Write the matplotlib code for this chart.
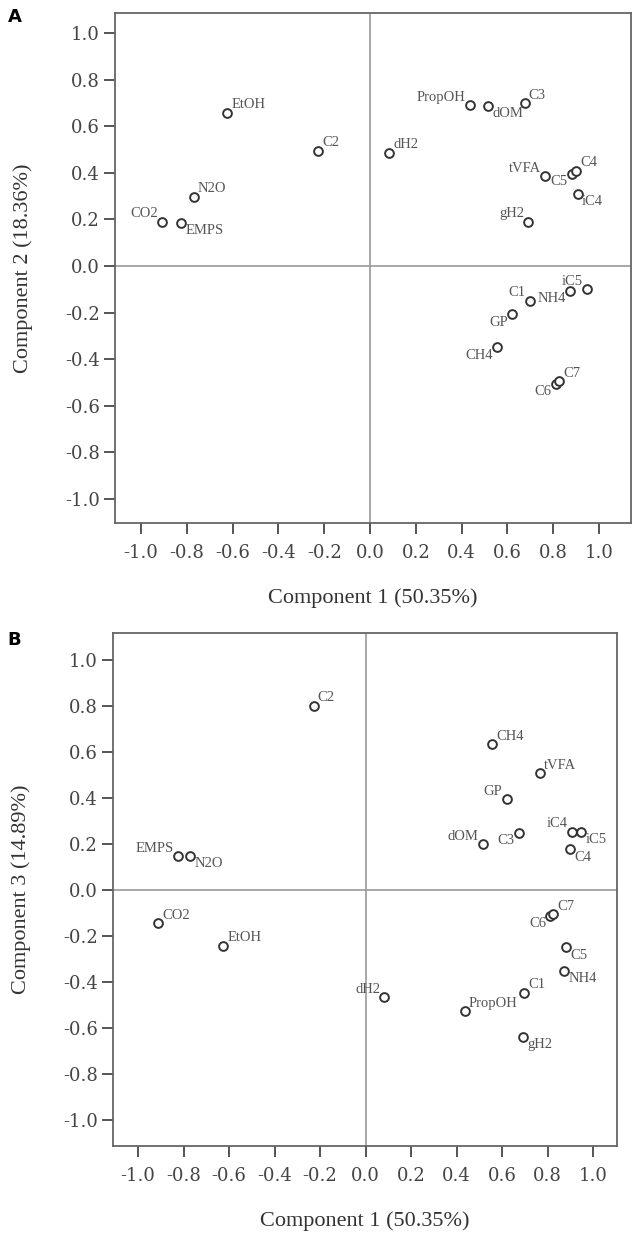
import matplotlib.pyplot as plt

# loadings
names = ["EtOH", "C2", "N2O", "CO2", "EMPS", "PropOH", "dOM", "C3", "dH2", "tVFA",
         "C5", "C4", "iC4", "gH2", "iC5", "NH4", "C1", "GP", "CH4", "C6", "C7"]
comp1 = [-0.625, -0.228, -0.770, -0.910, -0.825, 0.435, 0.515, 0.675, 0.082, 0.765,
         0.882, 0.900, 0.908, 0.692, 0.948, 0.872, 0.698, 0.620, 0.555, 0.812, 0.825]
comp2 = [0.658, 0.495, 0.297, 0.190, 0.186, 0.690, 0.688, 0.698, 0.486, 0.386,
         0.395, 0.409, 0.309, 0.190, -0.100, -0.107, -0.149, -0.207, -0.349, -0.505, -0.495]
comp3 = [-0.242, 0.801, 0.148, -0.145, 0.148, -0.526, 0.200, 0.249, -0.465, 0.507,
         -0.249, 0.177, 0.253, -0.638, 0.253, -0.351, -0.447, 0.394, 0.633, -0.112, -0.105]

ticks = [-1.0, -0.8, -0.6, -0.4, -0.2, 0.0, 0.2, 0.4, 0.6, 0.8, 1.0]

# label placement: ur = upper right, ul = upper left, lr = lower right, ll = lower left
place_a = {"EtOH": "ur", "C2": "ur", "N2O": "ur", "CO2": "ul", "EMPS": "lr", "PropOH": "ul",
           "dOM": "lr", "C3": "ur", "dH2": "ur", "tVFA": "ul", "C5": "ll", "C4": "ur",
           "iC4": "lr", "gH2": "ul", "iC5": "ul", "NH4": "ll", "C1": "ul", "GP": "ll",
           "CH4": "ll", "C6": "ll", "C7": "ur"}
place_b = {"EtOH": "ur", "C2": "ur", "N2O": "lr", "CO2": "ur", "EMPS": "ul", "PropOH": "ur",
           "dOM": "ul", "C3": "ll", "dH2": "ul", "tVFA": "ur", "C5": "lr", "C4": "lr",
           "iC4": "ul", "gH2": "lr", "iC5": "lr", "NH4": "lr", "C1": "ur", "GP": "ul",
           "CH4": "ur", "C6": "ll", "C7": "ur"}

fig = plt.figure(figsize=(6.38, 12.42), dpi=100)

def panel(rect, xs, ys, place, ylabel, xlim, ylim, letter, letter_y):
    ax = fig.add_axes(rect)
    ax.axhline(0, color="#9a9a9a", lw=1.2, zorder=1)
    ax.axvline(0, color="#9a9a9a", lw=1.2, zorder=1)
    ax.plot(xs, ys, "o", ms=6.3, mfc="white", mec="#333333", mew=1.4, zorder=3)
    for n, x, y in zip(names, xs, ys):
        p = place[n]
        dx = 3 if p[1] == "r" else -3
        dy = 1 if p[0] == "u" else -1
        ax.annotate(n, (x, y), xytext=(dx, dy), textcoords="offset points",
                    ha="left" if p[1] == "r" else "right",
                    va="bottom" if p[0] == "u" else "top",
                    fontsize=10.5, family="Liberation Serif", color="#555555")
    ax.set_xlim(*xlim)
    ax.set_ylim(*ylim)
    ax.set_xticks(ticks)
    ax.set_yticks(ticks)
    ax.set_xticklabels(["%.1f" % t for t in ticks])
    ax.set_yticklabels(["%.1f" % t for t in ticks])
    for s in ax.spines.values():
        s.set_color("#666666")
        s.set_linewidth(1.3)
    ax.tick_params(direction="out", length=8, width=1.4, color="#555555",
                   labelsize=13, labelcolor="#444444")
    ax.tick_params(axis="x", pad=7)
    ax.tick_params(axis="y", pad=3)
    for lab in ax.get_xticklabels() + ax.get_yticklabels():
        lab.set_family("DejaVu Serif")
    ax.set_xlabel("Component 1 (50.35%)", family="Liberation Serif", fontsize=16, color="#333333")
    ax.set_ylabel(ylabel, family="Liberation Serif", fontsize=16, color="#333333")
    ax.xaxis.set_label_coords(0.5, -0.128)
    ax.yaxis.set_label_coords(-82 / (rect[2] * 638), 0.5)
    fig.text(0.012, letter_y, letter, fontsize=13, fontweight="bold", family="DejaVu Sans", va="center")
    return ax

panel([0.1803, 0.5789, 0.8088, 0.4106], comp1, comp2, place_a, "Component 2 (18.36%)",
      (-1.114, 1.14), (-1.103, 1.086), "A", 1 - 17 / 1242)
panel([0.1771, 0.0773, 0.790, 0.4130], comp1, comp3, place_b, "Component 3 (14.89%)",
      (-1.11, 1.105), (-1.113, 1.117), "B", 1 - 640 / 1242)

fig.savefig("out.png", dpi=100)
